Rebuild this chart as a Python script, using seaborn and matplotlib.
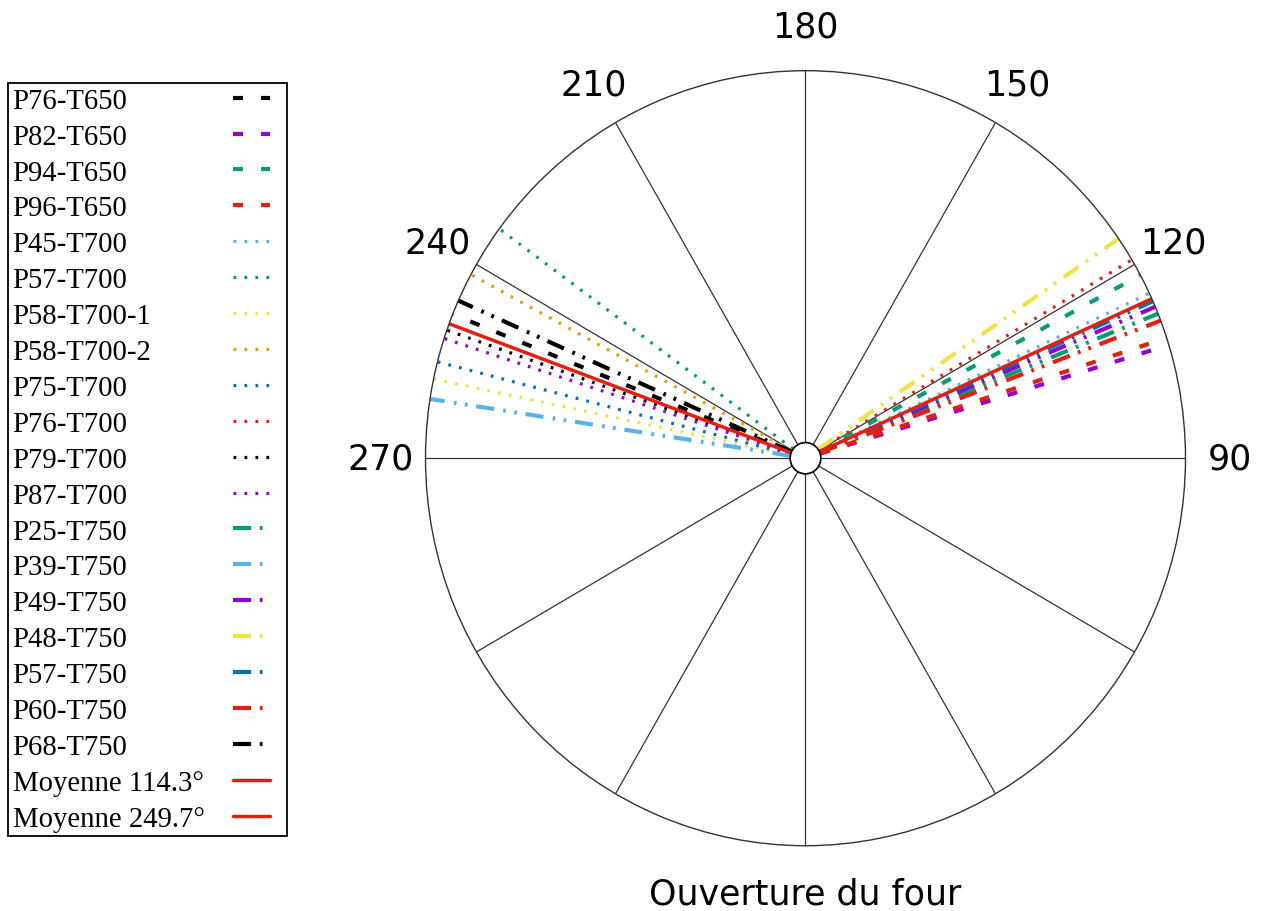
import numpy as np
import pandas as pd
import matplotlib
matplotlib.use('Agg')
import matplotlib.pyplot as plt
import seaborn as sns

# Data (angles in degrees)
names = ['P76-T650', 'P82-T650', 'P94-T650', 'P96-T650',
         'P45-T700', 'P57-T700', 'P58-T700-1', 'P58-T700-2', 'P75-T700',
         'P76-T700', 'P79-T700', 'P87-T700',
         'P25-T750', 'P39-T750', 'P49-T750', 'P48-T750', 'P57-T750',
         'P60-T750', 'P68-T750']
angles = [248.2, 107.0, 118.2, 108.1,
          115.2, 233.7, 258.2, 241.7, 255.6,
          120.8, 250.7, 252.0,
          111.9, 261.2, 113.0, 124.5, 113.9,
          110.8, 246.0]
colors = ['black', '#9400d3', '#009e73', '#e51e10',
          '#56b4e9', '#009e73', '#f0e442', '#e69f00', '#0072b2',
          '#e51e10', 'black', '#9400d3',
          '#009e73', '#56b4e9', '#9400d3', '#f0e442', '#0072b2',
          '#e51e10', 'black']
styles = ['dash'] * 4 + ['dot'] * 8 + ['dashdot'] * 7

mean_names = ['Moyenne 114.3°', 'Moyenne 249.7°']
mean_angles = [114.3, 249.7]
mean_color = '#e51e10'

theta_ticks = list(range(0, 360, 30))
theta_labels = ['', '', '', '90', '120', '150', '180', '210', '240', '270', '', '']

sns.set_theme(style='white')
plt.rcParams['font.family'] = ['DejaVu Sans']
plt.rcParams['text.color'] = 'black'
plt.rcParams['lines.scale_dashes'] = False
plt.rcParams['lines.dash_capstyle'] = 'butt'

linestyles = {
    'dash': (0, (7.2, 13.0)),
    'dot': (0, (2.0, 5.9)),
    'dashdot': (0, (13.0, 6.3, 2.0, 6.0, 2.0, 6.7)),
}
widths = {'dash': 3.0, 'dot': 2.3, 'dashdot': 3.0}

fig = plt.figure(figsize=(12.66, 9.12), dpi=100)
fig.patch.set_facecolor('white')
ax = fig.add_axes([0.3361, 0.0716, 0.6003, 0.8498], projection='polar')
ax.set_aspect('auto')
ax.set_theta_zero_location('S')
ax.set_theta_direction(1)

handles = []
labels = []
for name, ang, col, st in zip(names, angles, colors, styles):
    df = pd.DataFrame({'theta': np.deg2rad([ang, ang]), 'r': [0.0, 1.0]})
    sns.lineplot(data=df, x='theta', y='r', ax=ax, estimator=None, sort=False,
                 color=col, linestyle=linestyles[st], linewidth=widths[st],
                 legend=False)
    handles.append(ax.lines[-1])
    labels.append(name)

for name, ang in zip(mean_names, mean_angles):
    df = pd.DataFrame({'theta': np.deg2rad([ang, ang]), 'r': [0.0, 1.0]})
    sns.lineplot(data=df, x='theta', y='r', ax=ax, estimator=None, sort=False,
                 color=mean_color, linestyle='-', linewidth=2.5, legend=False)
    handles.append(ax.lines[-1])
    labels.append(name)

ax.set_rlim(0, 1)
ax.set_rorigin(-0.042)
ax.set_yticks([])
ax.set_thetagrids(theta_ticks, labels=theta_labels)
ax.tick_params(axis='x', length=0, pad=25, labelsize=25, labelcolor='black')
ax.grid(True, axis='x', color='#333333', linewidth=0.9)
ax.set_xlabel('')
ax.set_ylabel('')
ax.set_facecolor('white')
ax.spines['polar'].set_color('#333333')
ax.spines['polar'].set_linewidth(1.0)
ax.spines['inner'].set_color('black')
ax.spines['inner'].set_linewidth(1.2)

fig.text(0.6362, 0.008, 'Ouverture du four', ha='center', va='baseline',
         fontsize=25, color='black')

leg = fig.legend(handles, labels, loc='upper left',
                 bbox_to_anchor=(8 / 1266, 1 - 84 / 912),
                 bbox_transform=fig.transFigure, borderaxespad=0,
                 markerfirst=False, handlelength=1.29, handletextpad=0.5,
                 labelspacing=0.34, borderpad=0.16, fancybox=False,
                 framealpha=1, edgecolor='black', labelcolor='black',
                 prop={'family': 'Liberation Serif', 'size': 20.7})
leg.get_frame().set_linewidth(1.3)

# gnuplot style key: text left, sample right
rows = leg._legend_handle_box.get_children()[0].get_children()
for row in rows:
    row.mode = 'expand'
    row.width = 269.8
    row.get_children()[1].width += 8.9

fig.savefig('out.png', dpi=100)
